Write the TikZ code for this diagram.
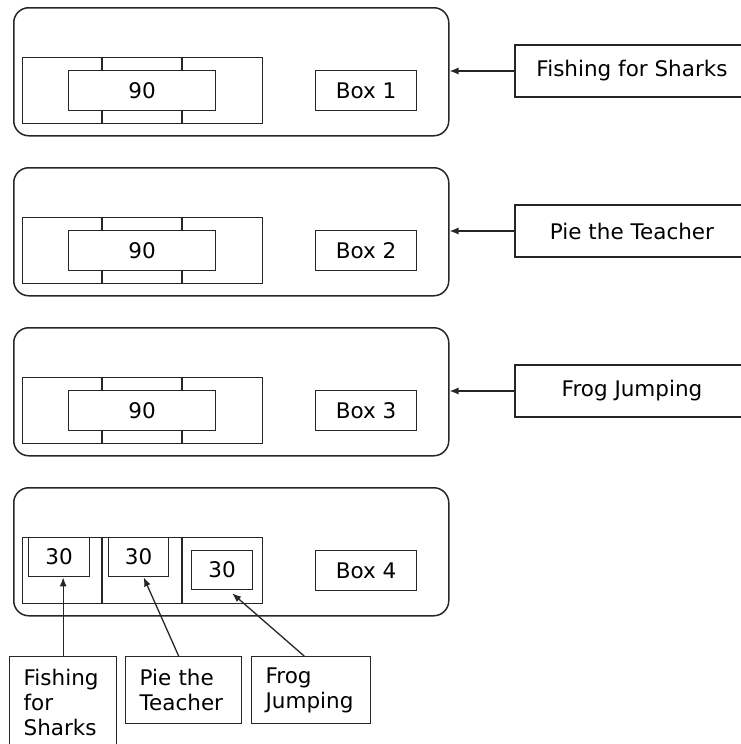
\documentclass[tikz,border=0pt]{standalone}
\usepackage{fontspec}
\setmainfont{DejaVu Sans}
\usetikzlibrary{arrows.meta,calc}
\begin{document}
\begin{tikzpicture}[x=1pt,y=-1pt,
  ln/.style={draw=black!85, line width=1.3pt},
  bx/.style={ln, inner sep=0pt, anchor=north west, font=\fontsize{21.5}{25}\selectfont},
  panel/.style={ln, line width=1.5pt, rounded corners=15pt, inner sep=0pt, anchor=north west, minimum width=435pt, minimum height=128pt},
  arr/.style={draw=black!85, line width=1.3pt, -{Latex[length=9pt,width=7pt]}}]
\useasboundingbox (0,0) rectangle (740,744);
\foreach \i/\lab in {1/Fishing for Sharks,2/Pie the Teacher,3/Frog Jumping}{
  \pgfmathsetmacro{\oy}{(\i-1)*160}
  \node[panel] (p\i) at (13,7+\oy) {};
  \node[bx, minimum width=240pt, minimum height=66pt] (r\i) at (22,57+\oy) {};
  \node[bx, minimum width=147pt, minimum height=40pt] (n\i) at (68,70+\oy) {90};
  \node[bx, minimum width=101pt, minimum height=40pt] (b\i) at (315,70+\oy) {Box \i};
  \draw[ln] (102,57+\oy) -- (102,70+\oy) (182,57+\oy) -- (182,70+\oy)
            (102,110+\oy) -- (102,123+\oy) (182,110+\oy) -- (182,123+\oy);
  \node[bx, anchor=center, minimum width=234pt, minimum height=52pt] (l\i) at (632,71+\oy) {\lab};
  \draw[arr] (l\i.west) -- (l\i.west -| p\i.east);
}
% panel 4
\node[panel] (p4) at (13,487) {};
\node[bx, minimum width=240pt, minimum height=66pt] (r4) at (22,537) {};
\draw[ln] (102,537) -- (102,603) (182,537) -- (182,603);
\node[bx, minimum width=61pt, minimum height=39pt] (s1) at (28,537) {30};
\node[bx, minimum width=60pt, minimum height=39pt] (s2) at (108,537) {30};
\node[bx, minimum width=61pt, minimum height=39pt] (s3) at (191,550) {30};
\node[bx, minimum width=101pt, minimum height=40pt] (b4) at (315,550) {Box 4};
% bottom labels
\node[bx, minimum width=107pt, minimum height=92pt, text width=79pt, align=left, inner xsep=14pt] (f1) at (9,656) {Fishing\\for\\Sharks};
\node[bx, minimum width=116pt, minimum height=67pt, text width=88pt, align=left, inner xsep=14pt] (f2) at (125,656) {Pie the\\Teacher};
\node[bx, minimum width=119pt, minimum height=67pt, text width=91pt, align=left, inner xsep=14pt] (f3) at (251,656) {Frog\\Jumping};
\draw[arr] (f1.north) -- (f1.north |- s1.south);
\draw[arr] ($(f2.north)+(-5,0)$) -- ($(s2.south)+(5,0)$);
\draw[arr] ($(f3.north)+(-7,0)$) -- ($(s3.south)+(10,3)$);
\end{tikzpicture}
\end{document}
